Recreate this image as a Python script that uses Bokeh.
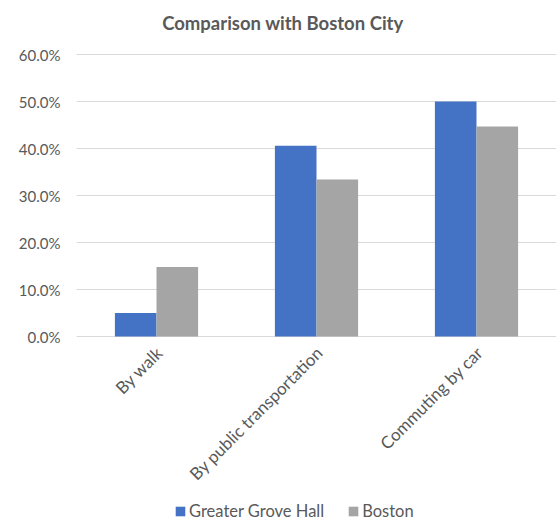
from bokeh.plotting import figure
from bokeh.models import (ColumnDataSource, FactorRange, Range1d, FixedTicker,
                          NumeralTickFormatter, Legend, LegendItem, Label)
from bokeh.core.properties import value
from bokeh.transform import dodge
from bokeh.embed import file_html
from bokeh.resources import INLINE
import math

categories = ["By walk", "By public transportation", "Commuting by car"]
greater_grove_hall = [0.050, 0.406, 0.500]
boston = [0.148, 0.334, 0.447]
series_names = ["Greater Grove Hall", "Boston"]
y_ticks = [0.0, 0.1, 0.2, 0.3, 0.4, 0.5, 0.6]
title_text = "Comparison with Boston City"

FONT = "Lato"
TXT = "#595959"

# layout (pixels): value axis 0 -> 60% spans 282 px, 54 px above and 186 px below
Y_MAX = 0.6
PX = Y_MAX / 282.0
TOP_PAD = 54
BOTTOM_PAD = 186

source = ColumnDataSource(data=dict(cat=categories, ggh=greater_grove_hall, bos=boston))

p = figure(frame_width=480, frame_height=282 + TOP_PAD + BOTTOM_PAD,
           output_backend="svg", toolbar_location=None,
           x_range=FactorRange(*categories, range_padding=0),
           y_range=Range1d(-BOTTOM_PAD * PX, Y_MAX + TOP_PAD * PX),
           min_border_left=76, min_border_right=0, min_border_top=0,
           min_border_bottom=0)

r1 = p.vbar(x=dodge("cat", -0.13, range=p.x_range), top="ggh", width=0.26,
            source=source, fill_color="#4472C4", line_color=None)
r2 = p.vbar(x=dodge("cat", 0.13, range=p.x_range), top="bos", width=0.26,
            source=source, fill_color="#A5A5A5", line_color=None)

# category labels, rotated 45 degrees under the baseline
p.text(x="cat", y=0, text="cat", source=source, angle=math.pi / 4,
       text_align="right", text_baseline="middle", x_offset=3, y_offset=13,
       text_font=value(FONT), text_font_size="17px", text_color=TXT)

p.yaxis.ticker = FixedTicker(ticks=y_ticks)
p.yaxis.formatter = NumeralTickFormatter(format="0.0%")
p.yaxis.axis_line_color = None
p.yaxis.major_tick_line_color = None
p.yaxis.minor_tick_line_color = None
p.yaxis.major_label_text_font = FONT
p.yaxis.major_label_text_font_size = "15px"
p.yaxis.major_label_text_color = TXT
p.yaxis.major_label_standoff = 10

p.xaxis.visible = False
p.xgrid.grid_line_color = None
p.ygrid.ticker = FixedTicker(ticks=y_ticks)
p.ygrid.grid_line_color = "#D9D9D9"
p.outline_line_color = None

title = Label(x=1.29, y=Y_MAX + 32 * PX, text=title_text,
              text_align="center", text_baseline="middle",
              text_font=FONT, text_font_size="18.5px", text_font_style="bold",
              text_color=TXT)
p.add_layout(title)

legend = Legend(items=[LegendItem(label=series_names[0], renderers=[r1]),
                       LegendItem(label=series_names[1], renderers=[r2])],
                orientation="horizontal", location=(98, 1),
                label_text_font=FONT, label_text_font_size="16.5px",
                label_text_color=TXT, border_line_color=None,
                background_fill_alpha=0,
                glyph_width=12, glyph_height=12, spacing=23,
                label_standoff=3, margin=0, padding=0)
p.add_layout(legend)

open("out.html", "w").write(file_html(p, INLINE))
